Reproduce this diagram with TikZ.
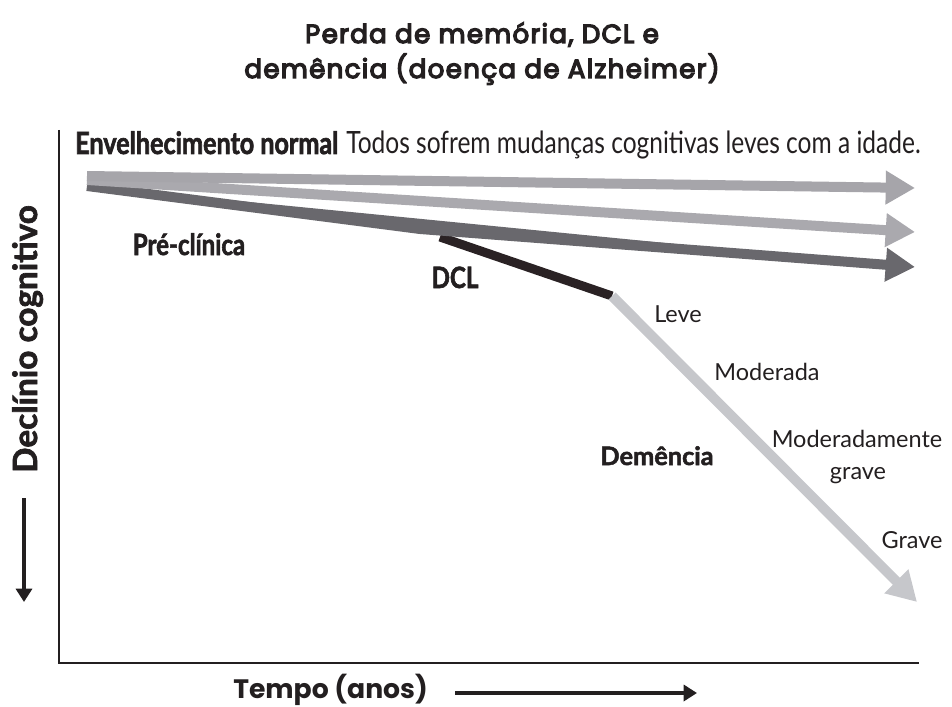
\documentclass[tikz,border=0pt]{standalone}
\usepackage{fontspec}
\usetikzlibrary{arrows.meta}
\setmainfont{Lato}
\newfontfamily\titlefont[FakeBold=5,LetterSpace=5]{Poppins}
\newfontfamily\widefont{Poppins}
\newfontfamily\condfont[FakeStretch=0.8]{Lato}
\newfontfamily\condheavy[FakeStretch=0.82,FakeBold=2]{Lato}
\newfontfamily\heavyfont[FakeBold=2]{Lato}
\definecolor{txt}{HTML}{231F20}
\definecolor{normal}{HTML}{A6A5AA}
\definecolor{normalb}{HTML}{AAA9AE}
\definecolor{preclin}{HTML}{69686D}
\definecolor{mci}{HTML}{2A2224}
\definecolor{dement}{HTML}{C6C7CB}
\tikzset{
  band/.style={line width=7.5pt,-{Triangle[length=22pt,width=24pt]}},
  axis/.style={line width=2.2pt,draw=txt},
  lab/.style={text=txt,inner sep=0pt,anchor=base},
}
\begin{document}
\begin{tikzpicture}[x=0.75pt,y=-0.75pt,>={Triangle[length=10pt,width=12pt]}]
\useasboundingbox (0,0) rectangle (952,706);

% title
\node[lab] (title1) at (482,43) {\titlefont\fontsize{19.6}{22}\selectfont Perda de memória, DCL e};
\node[lab] (title2) at (482,78) {\titlefont\fontsize{19.6}{22}\selectfont demência (doença de Alzheimer)};

% axes
\coordinate (ytop) at (59,130);
\coordinate (origin) at (59,663);
\coordinate (xend) at (919,663);
\draw[axis] (ytop)--(origin)--(xend);

\node[lab,rotate=90] (ylab) at (37,339) {\heavyfont\bfseries\fontsize{25}{28}\selectfont Declínio cognitivo};
\coordinate (ya) at (24,498);
\coordinate (yb) at (24,602);
\draw[->,line width=2.5pt,draw=txt,fill=txt] (ya)--(yb);

\node[lab,anchor=base west] (xlab) at (233,698) {\widefont\bfseries\fontsize{20}{22}\selectfont Tempo (anos)};
\coordinate (xa) at (455,693);
\coordinate (xb) at (697,693);
\draw[->,line width=2.5pt,draw=txt,fill=txt] (xa)--(xb);

% curves
\coordinate (n0) at (87,176);
\coordinate (n1) at (915,188);
\coordinate (m0) at (87,180);
\coordinate (m1) at (915,232);
\coordinate (p0) at (87,186);
\coordinate (p1) at (420,229);
\coordinate (p2) at (915,267);
\coordinate (c0) at (440,237);
\coordinate (c1) at (612,296);
\coordinate (d1) at (917,602);

\draw[line width=6.75pt,draw=mci] (c0)--(c1);
\draw[band,draw=dement,fill=dement] (c1)--(d1);
\draw[band,draw=preclin,fill=preclin] (p0)--(p1)--(p2);
\draw[band,draw=normalb,fill=normalb] (m0)--(m1);
\draw[band,draw=normal,fill=normal] (n0)--(n1);

% labels
\node[lab,anchor=base west] (normtxt) at (75,154) {\fontsize{23}{26}\selectfont{\condheavy\bfseries Envelhecimento normal} \condfont Todos sofrem mudanças cognitivas leves com a idade.};
\node[lab] (pre) at (189,255) {\condheavy\bfseries\fontsize{22}{24}\selectfont Pré-clínica};
\node[lab] (dcl) at (455,288) {\condheavy\bfseries\fontsize{22}{24}\selectfont DCL};
\node[lab] (dem) at (657,465) {\heavyfont\bfseries\fontsize{19}{22}\selectfont Demência};
\node[lab] (leve) at (678,322) {\fontsize{17.6}{20}\selectfont Leve};
\node[lab] (mod) at (767,380) {\fontsize{17.6}{20}\selectfont Moderada};
\node[lab] (modg) at (857,447) {\fontsize{17.6}{20}\selectfont Moderadamente};
\node[lab] (modg2) at (858,479) {\fontsize{17.6}{20}\selectfont grave};
\node[lab] (grave) at (912,548) {\fontsize{17.6}{20}\selectfont Grave};

\end{tikzpicture}
\end{document}
